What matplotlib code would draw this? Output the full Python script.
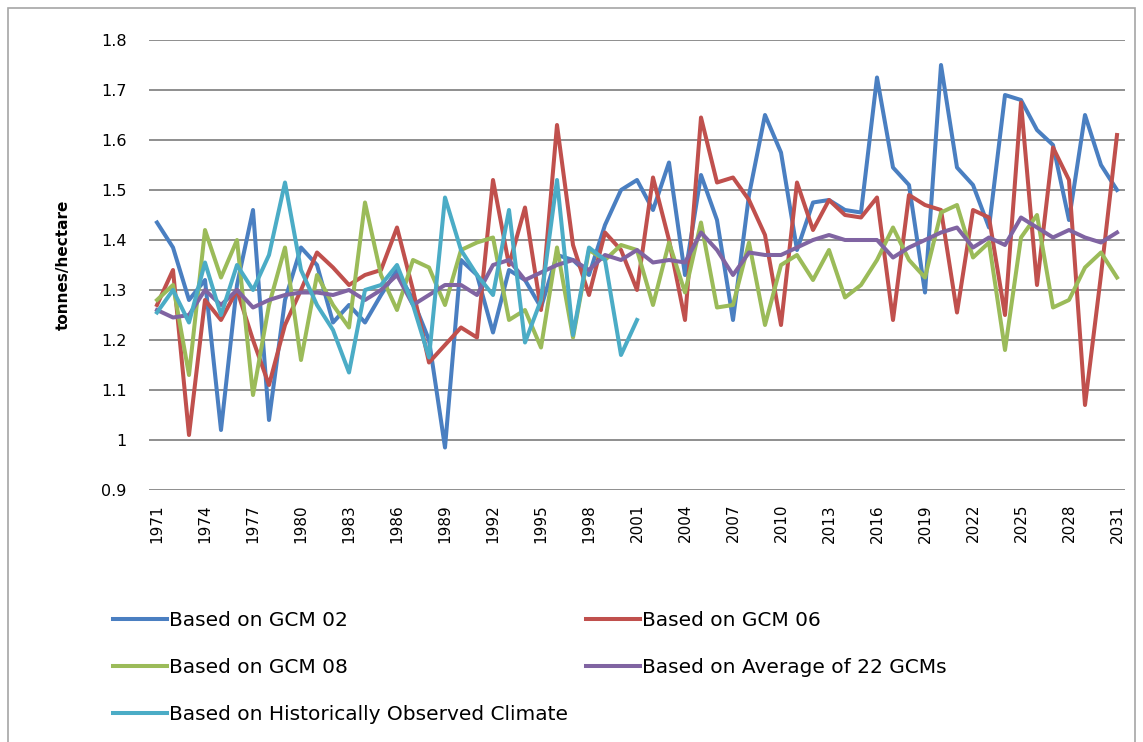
import numpy as np
import matplotlib
matplotlib.use('Agg')
import matplotlib.pyplot as plt
from matplotlib.patches import Rectangle

# values (tonnes/hectare)
years = list(range(1971, 2032))

gcm02 = [1.435, 1.385, 1.28, 1.32, 1.02, 1.31, 1.46, 1.04, 1.28, 1.385,
         1.35, 1.235, 1.27, 1.235, 1.29, 1.34, 1.28, 1.20, 0.985, 1.36,
         1.33, 1.215, 1.34, 1.32, 1.265, 1.37, 1.36, 1.33, 1.43, 1.50,
         1.52, 1.46, 1.555, 1.33, 1.53, 1.44, 1.24, 1.49, 1.65, 1.575,
         1.38, 1.475, 1.48, 1.46, 1.455, 1.725, 1.545, 1.51, 1.295, 1.75,
         1.545, 1.51, 1.425, 1.69, 1.68, 1.62, 1.59, 1.44, 1.65, 1.55, 1.50]

gcm06 = [1.27, 1.34, 1.01, 1.28, 1.24, 1.30, 1.20, 1.11, 1.23, 1.30,
         1.375, 1.345, 1.31, 1.33, 1.34, 1.425, 1.30, 1.155, 1.19, 1.225,
         1.205, 1.52, 1.35, 1.465, 1.26, 1.63, 1.39, 1.29, 1.415, 1.38,
         1.30, 1.525, 1.40, 1.24, 1.645, 1.515, 1.525, 1.48, 1.41, 1.23,
         1.515, 1.42, 1.48, 1.45, 1.445, 1.485, 1.24, 1.49, 1.47, 1.46,
         1.255, 1.46, 1.445, 1.25, 1.675, 1.31, 1.585, 1.52, 1.07, 1.33, 1.61]

gcm08 = [1.28, 1.31, 1.13, 1.42, 1.325, 1.40, 1.09, 1.27, 1.385, 1.16,
         1.33, 1.27, 1.225, 1.475, 1.33, 1.26, 1.36, 1.345, 1.27, 1.38,
         1.395, 1.405, 1.24, 1.26, 1.185, 1.385, 1.205, 1.38, 1.36, 1.39,
         1.38, 1.27, 1.395, 1.295, 1.435, 1.265, 1.27, 1.395, 1.23, 1.35,
         1.37, 1.32, 1.38, 1.285, 1.31, 1.36, 1.425, 1.36, 1.325, 1.455,
         1.47, 1.365, 1.395, 1.18, 1.405, 1.45, 1.265, 1.28, 1.345, 1.375, 1.325]

avg22 = [1.26, 1.245, 1.25, 1.30, 1.27, 1.30, 1.265, 1.28, 1.29, 1.295,
         1.295, 1.29, 1.30, 1.28, 1.30, 1.33, 1.27, 1.29, 1.31, 1.31,
         1.29, 1.35, 1.36, 1.32, 1.335, 1.35, 1.36, 1.34, 1.37, 1.36,
         1.38, 1.355, 1.36, 1.355, 1.415, 1.38, 1.33, 1.375, 1.37, 1.37,
         1.385, 1.40, 1.41, 1.40, 1.40, 1.40, 1.365, 1.385, 1.40, 1.415,
         1.425, 1.385, 1.405, 1.39, 1.445, 1.425, 1.405, 1.42, 1.405, 1.395, 1.415]

# observed climate only runs to 2001
hist_years = list(range(1971, 2002))
historical = [1.255, 1.30, 1.235, 1.355, 1.25, 1.35, 1.30, 1.37, 1.515, 1.34,
              1.27, 1.22, 1.135, 1.30, 1.31, 1.35, 1.27, 1.165, 1.485, 1.38,
              1.33, 1.29, 1.46, 1.195, 1.28, 1.52, 1.21, 1.385, 1.36, 1.17, 1.24]

yticks = [0.9, 1.0, 1.1, 1.2, 1.3, 1.4, 1.5, 1.6, 1.7, 1.8]
xtick_years = list(range(1971, 2032, 3))

W, H = 1143, 742
fig = plt.figure(figsize=(W / 100, H / 100), dpi=100)
ax = fig.add_axes([149 / W, 1 - 490 / H, (1125 - 149) / W, 450 / H])

lw = 2.9
l1, = ax.plot(years, gcm02, color='#4A7FC1', lw=lw, label='Based on GCM 02')
l2, = ax.plot(years, gcm06, color='#C0504D', lw=lw, label='Based on GCM 06')
l3, = ax.plot(years, gcm08, color='#9BBB59', lw=lw, label='Based on GCM 08')
l4, = ax.plot(years, avg22, color='#8064A2', lw=lw, label='Based on Average of 22 GCMs')
l5, = ax.plot(hist_years, historical, color='#4BACC6', lw=lw,
              label='Based on Historically Observed Climate')

ax.set_xlim(1970.5, 2031.5)
ax.set_ylim(0.9, 1.8)
ax.set_yticks(yticks)
ax.set_yticklabels(['%g' % v for v in yticks], fontsize=11.5)
ax.set_xticks(xtick_years)
ax.set_xticklabels([str(y) for y in xtick_years], rotation=90, fontsize=11)
ax.tick_params(axis='y', length=0, pad=16)
ax.tick_params(axis='x', length=0, pad=10)

ax.grid(axis='y', color='#868686', lw=1.3)
ax.set_axisbelow(True)
for s in ax.spines.values():
    s.set_visible(False)

ax.set_ylabel('tonnes/hectare', fontsize=11, fontweight='bold', labelpad=22)

# legend laid out like the Excel one: two columns, filled row by row
fig.legend([l1, l3, l5, l2, l4],
           [l1.get_label(), l3.get_label(), l5.get_label(), l2.get_label(), l4.get_label()],
           ncol=2, loc='upper left', bbox_to_anchor=(113 / W, 1 - 611 / H),
           frameon=False, fontsize=14.5, handlelength=2.7, handletextpad=0.1,
           labelspacing=1.4, columnspacing=0.85, borderpad=0, borderaxespad=0)

# outer chart border
fig.patches.append(Rectangle((8 / W, -0.05), (1135 - 8) / W, 1.05 - 8 / H,
                             transform=fig.transFigure, fill=False,
                             edgecolor='#A6A6A6', lw=1.2))

plt.savefig('out.png', dpi=100)
